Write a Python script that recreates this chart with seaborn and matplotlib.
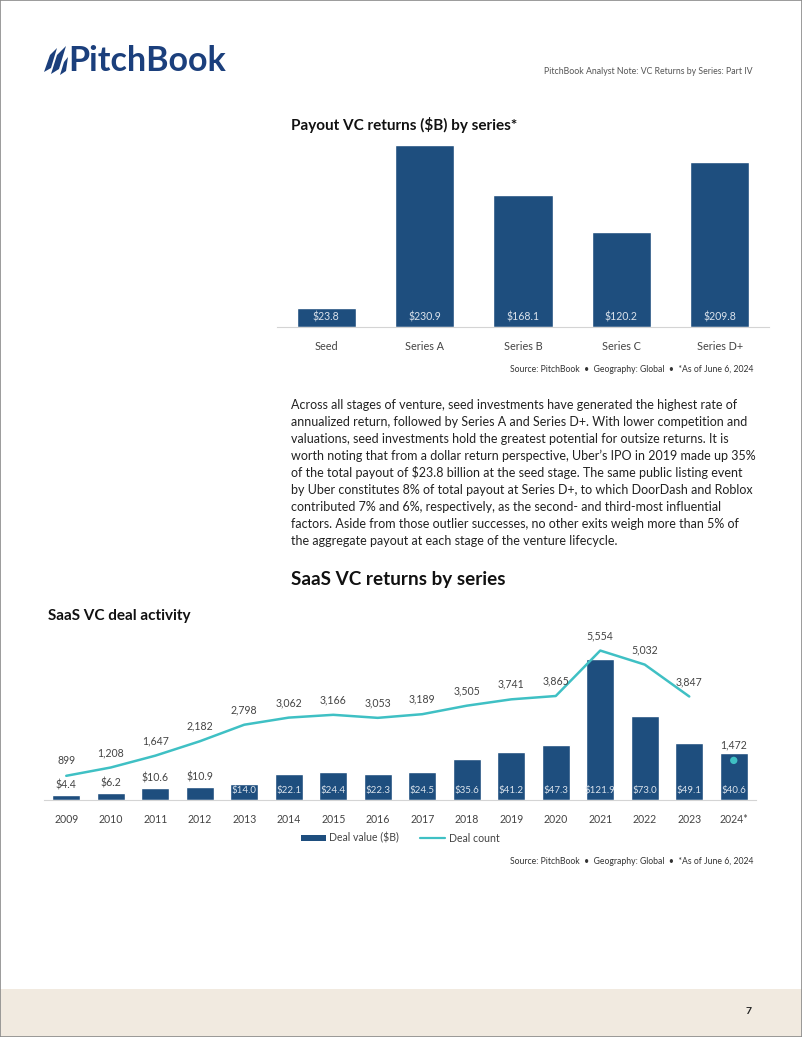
import numpy as np
import pandas as pd
import matplotlib
matplotlib.use("Agg")
import matplotlib.pyplot as plt
import seaborn as sns
from matplotlib.patches import Rectangle, Polygon
from matplotlib.lines import Line2D

# ---------------- data ----------------
series = ["Seed", "Series A", "Series B", "Series C", "Series D+"]
payout = [23.8, 230.9, 168.1, 120.2, 209.8]

years = ["2009", "2010", "2011", "2012", "2013", "2014", "2015", "2016",
         "2017", "2018", "2019", "2020", "2021", "2022", "2023", "2024*"]
deal_value = [4.4, 6.2, 10.6, 10.9, 14.0, 22.1, 24.4, 22.3,
              24.5, 35.6, 41.2, 47.3, 121.9, 73.0, 49.1, 40.6]
deal_count = [899, 1208, 1647, 2182, 2798, 3062, 3166, 3053,
              3189, 3505, 3741, 3865, 5554, 5032, 3847, 1472]

paragraph = [
    "Across all stages of venture, seed investments have generated the highest rate of",
    "annualized return, followed by Series A and Series D+. With lower competition and",
    "valuations, seed investments hold the greatest potential for outsize returns. It is",
    "worth noting that from a dollar return perspective, Uber\u2019s IPO in 2019 made up 35%",
    "of the total payout of $23.8 billion at the seed stage. The same public listing event",
    "by Uber constitutes 8% of total payout at Series D+, to which DoorDash and Roblox",
    "contributed 7% and 6%, respectively, as the second- and third-most influential",
    "factors. Aside from those outlier successes, no other exits weigh more than 5% of",
    "the aggregate payout at each stage of the venture lifecycle.",
]
source_text = "Source: PitchBook  \u2022  Geography: Global  \u2022  *As of June 6, 2024"

# ---------------- style ----------------
sns.set_theme(style="white")
plt.rcParams["font.family"] = ["Lato", "DejaVu Sans"]

NAVY = "#1e4e7e"
TEAL = "#3fc0c4"
DARK = "#222222"
GRAY = "#444444"
LIGHT = "#dbe3ec"

W, H = 802, 1037
fig = plt.figure(figsize=(W / 100, H / 100), dpi=100)
fig.patch.set_facecolor("white")

def fx(x):
    return x / W

def fy(y):
    return 1 - y / H

# page border and footer band
fig.add_artist(Rectangle((0, 0), 1, 1, transform=fig.transFigure, fill=False,
                         edgecolor="#8a8a8a", lw=1.2))
fig.add_artist(Rectangle((0, 0), 1, (H - 989) / H, transform=fig.transFigure,
                         facecolor="#f1eae0", edgecolor="none", zorder=0))
fig.text(fx(752), fy(1012), "7", ha="right", va="center", fontsize=7.5,
         fontweight="bold", color="#222222")

# logo
logo_col = "#1b3f7c"
for pts in [
    [(44, 72), (50, 55), (57, 48), (51, 68)],
    [(51, 74), (57, 55), (66, 46), (59, 69)],
    [(60, 75), (64, 62), (68, 57), (66, 71)],
]:
    fig.add_artist(Polygon([(fx(a), fy(b)) for a, b in pts], closed=True,
                           transform=fig.transFigure, facecolor=logo_col,
                           edgecolor="none"))
fig.text(fx(68), fy(61), "PitchBook", ha="left", va="center", fontsize=24.5,
         fontweight="bold", color=logo_col)
fig.text(fx(753), fy(71), "PitchBook Analyst Note: VC Returns by Series: Part IV",
         ha="right", va="center", fontsize=6.3, color="#555555")

# ---------------- top chart ----------------
px_per_unit = 0.788
ylim_top = 240
ax1 = fig.add_axes([fx(277), fy(327), 492 / W, ylim_top * px_per_unit / H])
df1 = pd.DataFrame({"series": series, "payout": payout})
sns.barplot(data=df1, x="series", y="payout", color=NAVY, saturation=1,
            width=0.6, ax=ax1)
ax1.set_xlim(-0.5, len(series) - 0.5)
ax1.set_ylim(0, ylim_top)
ax1.set_xlabel("")
ax1.set_ylabel("")
ax1.set_yticks([])
for s in ["top", "left", "right"]:
    ax1.spines[s].set_visible(False)
ax1.spines["bottom"].set_color("#d4d4d4")
ax1.spines["bottom"].set_linewidth(0.8)
ax1.tick_params(axis="x", length=0, pad=10, labelsize=7.8, labelcolor=GRAY)
for i, v in enumerate(payout):
    ax1.annotate(f"${v:.1f}", xy=(i, 0), xytext=(0, 10), textcoords="offset pixels",
                 ha="center", va="center", fontsize=7.6, color=LIGHT)

fig.text(fx(291), fy(125), "Payout VC returns ($B) by series*", ha="left",
         va="center", fontsize=11.0, fontweight="bold", color="#111111")
fig.text(fx(753), fy(370), source_text, ha="right", va="center",
         fontsize=6.2, color="#333333")

# ---------------- paragraph ----------------
for i, line in enumerate(paragraph):
    fig.text(fx(291), fy(405 + 17 * i), line, ha="left", va="center",
             fontsize=9.0, color=DARK)

fig.text(fx(291), fy(579), "SaaS VC returns by series", ha="left", va="center",
         fontsize=13.6, fontweight="bold", color="#111111")
fig.text(fx(48), fy(616), "SaaS VC deal activity", ha="left", va="center",
         fontsize=11.0, fontweight="bold", color="#111111")

# ---------------- bottom chart ----------------
bar_px = 1.157
ylim_val = 130
ylim_cnt = ylim_val * 43.0
ax2 = fig.add_axes([fx(44), fy(800), 712 / W, ylim_val * bar_px / H])
df2 = pd.DataFrame({"year": years, "value": deal_value, "count": deal_count})
sns.barplot(data=df2, x="year", y="value", color=NAVY, saturation=1,
            width=0.63, ax=ax2)
ax2.set_xlim(-0.5, len(years) - 0.5)
ax2.set_ylim(0, ylim_val)
ax2.set_xlabel("")
ax2.set_ylabel("")
ax2.set_yticks([])
for s in ["top", "left", "right"]:
    ax2.spines[s].set_visible(False)
ax2.spines["bottom"].set_color("#d4d4d4")
ax2.spines["bottom"].set_linewidth(0.8)
ax2.tick_params(axis="x", length=0, pad=10, labelsize=7.6, labelcolor=GRAY)

for i, v in enumerate(deal_value):
    if v < 12:
        ax2.annotate(f"${v:.1f}", xy=(i, v), xytext=(0, 10), textcoords="offset pixels",
                     ha="center", va="center", fontsize=7.6, color=GRAY)
    else:
        ax2.annotate(f"${v:.1f}", xy=(i, 0), xytext=(0, 10), textcoords="offset pixels",
                     ha="center", va="center", fontsize=7.0, color=LIGHT)

ax3 = ax2.twinx()
xpos = np.arange(len(years))
sns.lineplot(x=xpos[:-1], y=deal_count[:-1], color=TEAL, lw=1.8, ax=ax3)
sns.scatterplot(x=xpos[-1:], y=deal_count[-1:], color=TEAL, s=28,
                edgecolor="none", ax=ax3, zorder=5)
ax3.set_ylim(0, ylim_cnt)
ax3.set_xlim(-0.5, len(years) - 0.5)
ax3.set_yticks([])
ax3.set_ylabel("")
for s in ["top", "left", "right", "bottom"]:
    ax3.spines[s].set_visible(False)
for line in ax3.lines:
    line.set_clip_on(False)
for i, c in enumerate(deal_count):
    ax3.annotate(f"{c:,}", xy=(i, c), xytext=(0, 15), textcoords="offset pixels",
                 ha="center", va="center", fontsize=7.6, color=GRAY)

handles = [Rectangle((0, 0), 1, 1, facecolor=NAVY, edgecolor="none"),
           Line2D([0], [0], color=TEAL, lw=1.6)]
fig.legend(handles, ["Deal value ($B)", "Deal count"], loc="center",
           bbox_to_anchor=(fx(400), fy(838)), ncol=2, frameon=False,
           fontsize=7.6, handlelength=2.4, handleheight=0.5, handletextpad=0.3,
           columnspacing=2.0, labelcolor=GRAY)
fig.text(fx(753), fy(862), source_text, ha="right", va="center",
         fontsize=6.2, color="#333333")

fig.savefig("out.png", dpi=100)
